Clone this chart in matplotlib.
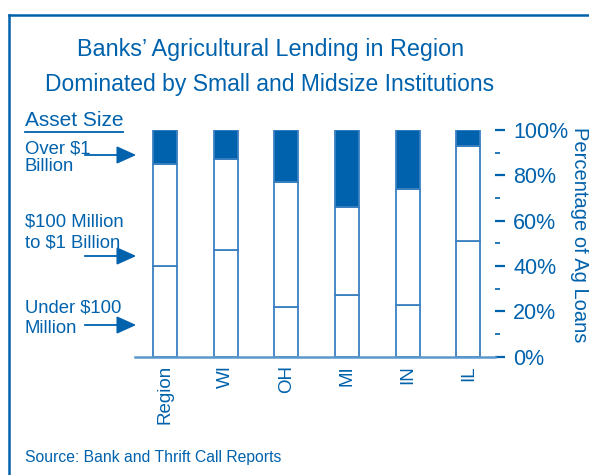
import numpy as np
import matplotlib.pyplot as plt
from matplotlib.lines import Line2D
from matplotlib.patches import FancyArrowPatch
from matplotlib.ticker import MultipleLocator, PercentFormatter

plt.rcParams['font.family'] = ['Liberation Sans', 'DejaVu Sans']

# data: share of ag loans by bank asset size (percent)
states = ['Region', 'WI', 'OH', 'MI', 'IN', 'IL']
under_100m = [40, 47, 22, 27, 23, 51]
mid_100m_1b = [45, 40, 55, 39, 51, 42]
over_1b = [15, 13, 23, 34, 26, 7]

legend_lines = [['Over $1', 'Billion'],
                ['$100 Million', 'to $1 Billion'],
                ['Under $100', 'Million']]

BLUE = '#0062ac'
EDGE = '#3a80c0'
W, H = 589, 475

def fx(x):
    return x / W

def fy(y):
    return 1 - y / H

fig = plt.figure(figsize=(W / 100, H / 100), dpi=100)
ax = fig.add_axes([fx(135), fy(356.7), (495 - 135) / W, 226.7 / H])

x = np.arange(len(states))
lower = np.array(under_100m)
middle = np.array(mid_100m_1b)
top = np.array(over_1b)
bw = 0.395
ax.bar(x, lower, bw, color='white', edgecolor=EDGE, linewidth=1.3)
ax.bar(x, middle, bw, bottom=lower, color='white', edgecolor=EDGE, linewidth=1.3)
ax.bar(x, top, bw, bottom=lower + middle, color=BLUE, edgecolor=EDGE, linewidth=1.3)

ax.set_xlim(-0.494, 5.437)
ax.set_ylim(0, 100)
for s in ['top', 'left', 'right']:
    ax.spines[s].set_visible(False)
ax.spines['bottom'].set_color('#5a98cc')
ax.spines['bottom'].set_linewidth(1.8)

ax.set_xticks(x)
ax.set_xticklabels(states, rotation=90, fontsize=13.5, color=BLUE)
ax.tick_params(axis='x', length=0, pad=6)

ax.yaxis.tick_right()
ax.yaxis.set_major_locator(MultipleLocator(20))
ax.yaxis.set_minor_locator(MultipleLocator(10))
ax.yaxis.set_major_formatter(PercentFormatter(decimals=0))
ax.tick_params(axis='y', which='major', length=7, width=1.6, color=BLUE,
               labelcolor=BLUE, labelsize=15.5, pad=6)
ax.tick_params(axis='y', which='minor', length=3.5, width=1.2, color=BLUE)
ax.yaxis.set_label_position('right')
ax.set_ylabel('Percentage of Ag Loans', rotation=-90, fontsize=14.5,
              color=BLUE, ha='center', va='center')
ax.yaxis.set_label_coords((579 - 135) / 360, (356.7 - 235) / 226.7)

# titles
fig.text(fx(271), fy(56), 'Banks\u2019 Agricultural Lending in Region', ha='center',
         va='baseline', fontsize=16.8, color=BLUE)
fig.text(fx(270), fy(90.5), 'Dominated by Small and Midsize Institutions',
         ha='center', va='baseline', fontsize=16.5, color=BLUE)

# left legend
fig.text(fx(25), fy(126), 'Asset Size', va='baseline', fontsize=15, color=BLUE)
fig.add_artist(Line2D([fx(25), fx(123)], [fy(131.5), fy(131.5)], color=BLUE, lw=1.3))

baselines = [(153.3, 170.7), (226, 247.7), (312.3, 333.3)]
arrow_y = [155, 256, 325]
for lines, (b1, b2), ay in zip(legend_lines, baselines, arrow_y):
    fig.text(fx(25), fy(b1), lines[0], va='baseline', fontsize=13.3, color=BLUE)
    fig.text(fx(25), fy(b2), lines[1], va='baseline', fontsize=13.3, color=BLUE)
    arr = FancyArrowPatch((fx(82), fy(ay)), (fx(139), fy(ay)),
                          transform=fig.transFigure,
                          arrowstyle='-|>,head_length=1.0,head_width=0.45',
                          mutation_scale=12, color=BLUE, lw=1.3)
    fig.add_artist(arr)

fig.text(fx(25), fy(462), 'Source: Bank and Thrift Call Reports', va='baseline',
         fontsize=11.3, color=BLUE)

# frame
fig.add_artist(Line2D([fx(8.5), 1], [fy(14.5), fy(14.5)], color=BLUE, lw=1.8))
fig.add_artist(Line2D([fx(8.5), fx(8.5)], [fy(14.5), 0], color=BLUE, lw=1.8))

fig.savefig('out.png', dpi=100)
